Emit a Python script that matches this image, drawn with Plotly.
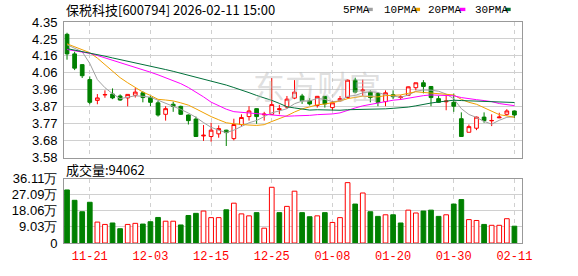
import plotly.graph_objects as go

# ---------------- data ----------------
dates = [
    "2025-11-18", "2025-11-19", "2025-11-20", "2025-11-21", "2025-11-24", "2025-11-25",
    "2025-11-26", "2025-11-27", "2025-11-28", "2025-12-01", "2025-12-02", "2025-12-03",
    "2025-12-04", "2025-12-05", "2025-12-08", "2025-12-09", "2025-12-10", "2025-12-11",
    "2025-12-12", "2025-12-15", "2025-12-16", "2025-12-17", "2025-12-18", "2025-12-19",
    "2025-12-22", "2025-12-23", "2025-12-24", "2025-12-25", "2025-12-26", "2025-12-29",
    "2025-12-30", "2025-12-31", "2026-01-05", "2026-01-06", "2026-01-07", "2026-01-08",
    "2026-01-09", "2026-01-12", "2026-01-13", "2026-01-14", "2026-01-15", "2026-01-16",
    "2026-01-19", "2026-01-20", "2026-01-21", "2026-01-22", "2026-01-23", "2026-01-26",
    "2026-01-27", "2026-01-28", "2026-01-29", "2026-01-30", "2026-02-02", "2026-02-03",
    "2026-02-04", "2026-02-05", "2026-02-06", "2026-02-09", "2026-02-10", "2026-02-11",
]
opens = [4.280, 4.169, 4.108, 4.023, 3.905, 3.936, 3.941, 3.930, 3.919, 3.934,
         3.948, 3.921, 3.891, 3.826, 3.883, 3.871, 3.822, 3.799, 3.703, 3.700,
         3.715, 3.736, 3.688, 3.768, 3.813, 3.858, 3.823, 3.826, 3.853, 3.867,
         3.918, 3.930, 3.903, 3.876, 3.928, 3.864, 3.903, 3.921, 4.020, 3.959,
         3.952, 3.944, 3.898, 3.937, 3.921, 3.934, 3.977, 4.005, 3.984, 3.915,
         3.897, 3.894, 3.801, 3.724, 3.747, 3.810, 3.789, 3.806, 3.826, 3.845]
highs = [4.289, 4.181, 4.110, 4.041, 3.941, 3.962, 3.973, 3.939, 3.939, 3.975,
         3.957, 3.930, 3.903, 3.872, 3.898, 3.875, 3.825, 3.813, 3.765, 3.778,
         3.763, 3.738, 3.801, 3.826, 3.872, 3.860, 3.840, 4.032, 3.880, 3.930,
         4.020, 3.942, 3.918, 3.930, 3.929, 3.903, 3.930, 4.023, 4.034, 4.023,
         3.962, 3.952, 3.962, 3.962, 3.934, 3.984, 4.005, 4.020, 3.986, 3.930,
         3.930, 3.944, 3.837, 3.768, 3.813, 3.837, 3.826, 3.835, 3.855, 3.847]
lows = [4.136, 4.077, 4.032, 3.883, 3.883, 3.920, 3.912, 3.903, 3.871, 3.921,
        3.894, 3.872, 3.813, 3.790, 3.840, 3.822, 3.768, 3.700, 3.675, 3.670,
        3.693, 3.646, 3.678, 3.758, 3.790, 3.772, 3.790, 3.822, 3.826, 3.858,
        3.912, 3.885, 3.876, 3.864, 3.864, 3.849, 3.898, 3.915, 3.945, 3.930,
        3.894, 3.872, 3.872, 3.912, 3.908, 3.930, 3.962, 3.945, 3.872, 3.891,
        3.849, 3.840, 3.700, 3.724, 3.736, 3.778, 3.759, 3.804, 3.818, 3.805]
closes = [4.169, 4.088, 4.045, 3.894, 3.919, 3.938, 3.919, 3.907, 3.939, 3.952,
          3.921, 3.894, 3.822, 3.858, 3.871, 3.826, 3.790, 3.700, 3.707, 3.736,
          3.745, 3.722, 3.768, 3.808, 3.845, 3.813, 3.827, 3.881, 3.857, 3.912,
          3.952, 3.903, 3.885, 3.928, 3.885, 3.891, 3.915, 4.020, 3.952, 3.963,
          3.921, 3.894, 3.948, 3.926, 3.925, 3.982, 4.005, 3.984, 3.921, 3.894,
          3.901, 3.872, 3.700, 3.756, 3.810, 3.790, 3.791, 3.810, 3.845, 3.822]
# volume in 万手
volumes = [29.7, 23.9, 17.5, 22.8, 11.7, 10.4, 11.2, 8.0, 10.4, 11.0,
           10.6, 11.9, 14.3, 12.2, 12.2, 10.1, 15.4, 16.6, 17.9, 14.2,
           14.2, 18.6, 22.3, 16.3, 15.2, 17.0, 8.3, 31.2, 17.0, 20.5,
           29.0, 17.0, 14.7, 15.2, 17.0, 11.5, 14.2, 33.8, 21.8, 28.0,
           17.5, 14.9, 15.8, 15.8, 11.2, 18.4, 16.8, 17.9, 18.4, 14.9,
           15.8, 21.8, 24.3, 13.1, 12.6, 10.4, 9.9, 9.9, 13.6, 9.4062]
ma5 = [4.221, 4.203, 4.181, 4.115, 4.023, 3.977, 3.943, 3.915, 3.924, 3.931,
       3.928, 3.923, 3.906, 3.889, 3.873, 3.854, 3.833, 3.809, 3.779, 3.752,
       3.736, 3.722, 3.736, 3.756, 3.778, 3.791, 3.812, 3.835, 3.845, 3.858,
       3.886, 3.901, 3.902, 3.916, 3.911, 3.898, 3.901, 3.928, 3.933, 3.948,
       3.954, 3.950, 3.936, 3.930, 3.923, 3.935, 3.957, 3.964, 3.963, 3.957,
       3.941, 3.914, 3.858, 3.825, 3.808, 3.786, 3.770, 3.792, 3.809, 3.812]
ma10 = [4.226, 4.210, 4.194, 4.176, 4.145, 4.109, 4.070, 4.034, 4.005, 3.977,
        3.952, 3.933, 3.911, 3.907, 3.902, 3.891, 3.878, 3.857, 3.834, 3.813,
        3.795, 3.778, 3.772, 3.767, 3.765, 3.763, 3.767, 3.785, 3.800, 3.818,
        3.839, 3.857, 3.868, 3.880, 3.884, 3.892, 3.901, 3.915, 3.924, 3.929,
        3.926, 3.925, 3.932, 3.932, 3.936, 3.945, 3.954, 3.950, 3.947, 3.940,
        3.938, 3.936, 3.911, 3.894, 3.883, 3.863, 3.842, 3.824, 3.817, 3.809]
ma20 = [4.194, 4.188, 4.181, 4.172, 4.160, 4.147, 4.133, 4.118, 4.105, 4.092,
        4.078, 4.065, 4.050, 4.034, 4.017, 4.000, 3.978, 3.953, 3.925, 3.895,
        3.874, 3.855, 3.841, 3.837, 3.833, 3.827, 3.823, 3.821, 3.817, 3.815,
        3.817, 3.817, 3.820, 3.824, 3.825, 3.828, 3.834, 3.850, 3.862, 3.874,
        3.882, 3.891, 3.900, 3.906, 3.910, 3.918, 3.927, 3.932, 3.936, 3.935,
        3.932, 3.931, 3.921, 3.913, 3.909, 3.904, 3.898, 3.887, 3.882, 3.875]
ma30 = [4.199, 4.191, 4.183, 4.176, 4.166, 4.156, 4.146, 4.136, 4.127, 4.118,
        4.109, 4.100, 4.090, 4.080, 4.070, 4.059, 4.048, 4.037, 4.027, 4.016,
        4.005, 3.992, 3.978, 3.965, 3.949, 3.933, 3.920, 3.905, 3.888, 3.869,
        3.862, 3.856, 3.850, 3.852, 3.850, 3.849, 3.849, 3.852, 3.853, 3.853,
        3.853, 3.853, 3.857, 3.860, 3.862, 3.867, 3.874, 3.883, 3.890, 3.896,
        3.901, 3.906, 3.904, 3.902, 3.901, 3.900, 3.899, 3.896, 3.896, 3.893]

price_ticks = ["3.58", "3.68", "3.77", "3.87", "3.96", "4.06", "4.16", "4.25", "4.35"]
vol_ticks = ["0", "9.03万", "18.06万", "27.09万", "36.11万"]
x_tick_dates = ["2025-11-21", "2025-12-03", "2025-12-15", "2025-12-25",
                "2026-01-08", "2026-01-20", "2026-01-30", "2026-02-11"]
x_tick_labels = ["11-21", "12-03", "12-15", "12-25", "01-08", "01-20", "01-30", "02-11"]
ma_names = ["5PMA", "10PMA", "20PMA", "30PMA"]
title_text = "保税科技[600794] 2026-02-11 15:00"
last_volume = 94062
watermark = "东方财富"

# ---------------- styles ----------------
RED = "#ff0000"
GREEN = "#008000"
MA_COLORS = ["#a0a0a0", "#f0a000", "#ff00ff", "#00703a"]
GRID = "#d0d0d0"
FRAME = "#999999"
W, H = 578, 276
L, R, T, B = 57, 56, 22, 21
PW, PH = W - L - R, H - T - B

def px(x):
    return (x - L) / PW

def py(y):
    return (H - B - y) / PH

pmin, pmax = 3.58, 4.35
vmax = 36.11
price_vals = [pmin + k * (pmax - pmin) / (len(price_ticks) - 1) for k in range(len(price_ticks))]
vol_vals = [k * vmax / (len(vol_ticks) - 1) for k in range(len(vol_ticks))]

fig = go.Figure()

fig.add_trace(go.Candlestick(
    x=dates, open=opens, high=highs, low=lows, close=closes,
    increasing=dict(line=dict(color=RED, width=1), fillcolor="white"),
    decreasing=dict(line=dict(color=GREEN, width=1), fillcolor=GREEN),
    whiskerwidth=0, xaxis="x", yaxis="y", showlegend=False, hoverinfo="skip",
))

for name, vals, col in zip(ma_names, [ma5, ma10, ma20, ma30], MA_COLORS):
    fig.add_trace(go.Scatter(x=dates, y=vals, mode="lines", name=name,
                             line=dict(color=col, width=1), xaxis="x", yaxis="y",
                             hoverinfo="skip"))

up = [(closes[i] > closes[i - 1]) if i > 0 else (closes[0] >= opens[0]) for i in range(len(closes))]
fig.add_trace(go.Bar(
    x=dates, y=volumes, width=0.62,
    marker=dict(color=["white" if u else GREEN for u in up],
                line=dict(color=[RED if u else GREEN for u in up], width=1)),
    xaxis="x2", yaxis="y2", showlegend=False, hoverinfo="skip",
))

axis_common = dict(showline=True, linecolor=FRAME, linewidth=1, mirror=True,
                   zeroline=False, fixedrange=True)

fig.update_layout(
    width=W, height=H, margin=dict(l=L, r=R, t=T, b=B),
    paper_bgcolor="white", plot_bgcolor="white", showlegend=False,
    font=dict(family="Liberation Sans, Arial, sans-serif", size=13, color="#000000"),
    xaxis=dict(type="category", domain=[0, 1], anchor="y", range=[-0.4, 60.0],
               tickvals=x_tick_dates, showticklabels=False, ticks="",
               showgrid=True, gridcolor=GRID, griddash="4px,4px", gridwidth=1,
               rangeslider=dict(visible=False), **axis_common),
    xaxis2=dict(type="category", domain=[0, 1], anchor="y2", matches="x",
                range=[-0.4, 60.0], tickvals=x_tick_dates, ticktext=x_tick_labels,
                tickfont=dict(family="Liberation Mono, monospace", size=12, color=RED),
                ticks="", ticklabelstandoff=2,
                showgrid=True, gridcolor=GRID, griddash="4px,4px", gridwidth=1,
                **axis_common),
    yaxis=dict(domain=[py(165), 1], anchor="x", range=[pmin, pmax],
               tickvals=price_vals, ticktext=price_ticks, ticks="",
               ticklabelstandoff=3, showgrid=True, gridcolor=GRID, gridwidth=1,
               **axis_common),
    yaxis2=dict(domain=[0, py(187)], anchor="x2", range=[0, vmax],
                tickvals=vol_vals, ticktext=vol_ticks, ticks="",
                ticklabelstandoff=3, showgrid=True, gridcolor=GRID, gridwidth=1,
                **axis_common),
)

annotations = [
    dict(text=title_text, x=px(57), y=py(9), xref="paper", yref="paper",
         xanchor="left", yanchor="middle", showarrow=False,
         font=dict(family="Noto Sans CJK SC", size=13, color="#000")),
    dict(text="成交量:" + str(last_volume), x=px(57), y=py(177.5), xref="paper", yref="paper",
         xanchor="left", yanchor="middle", showarrow=False,
         font=dict(family="Noto Sans CJK SC", size=13, color="#000")),
    dict(text=watermark, x=px(314), y=py(88), xref="paper", yref="paper",
         xanchor="center", yanchor="middle", showarrow=False,
         font=dict(family="Noto Sans CJK SC", size=32, color="rgba(185,185,185,0.45)")),
]
legend_text_x = [338, 380, 425, 472]
legend_sq_x = [365, 413, 459, 505]
shapes = []
for name, col, tx, sx in zip(ma_names, MA_COLORS, legend_text_x, legend_sq_x):
    annotations.append(dict(text=name, x=px(tx), y=py(9.5), xref="paper", yref="paper",
                            xanchor="left", yanchor="middle", showarrow=False,
                            font=dict(family="Liberation Mono, monospace", size=11, color="#000")))
    shapes.append(dict(type="rect", xref="paper", yref="paper",
                       x0=px(sx), x1=px(sx + 5.5), y0=py(7), y1=py(10.5),
                       fillcolor=col, line=dict(width=0)))
fig.update_layout(annotations=annotations, shapes=shapes)

fig.write_html("out.html")
